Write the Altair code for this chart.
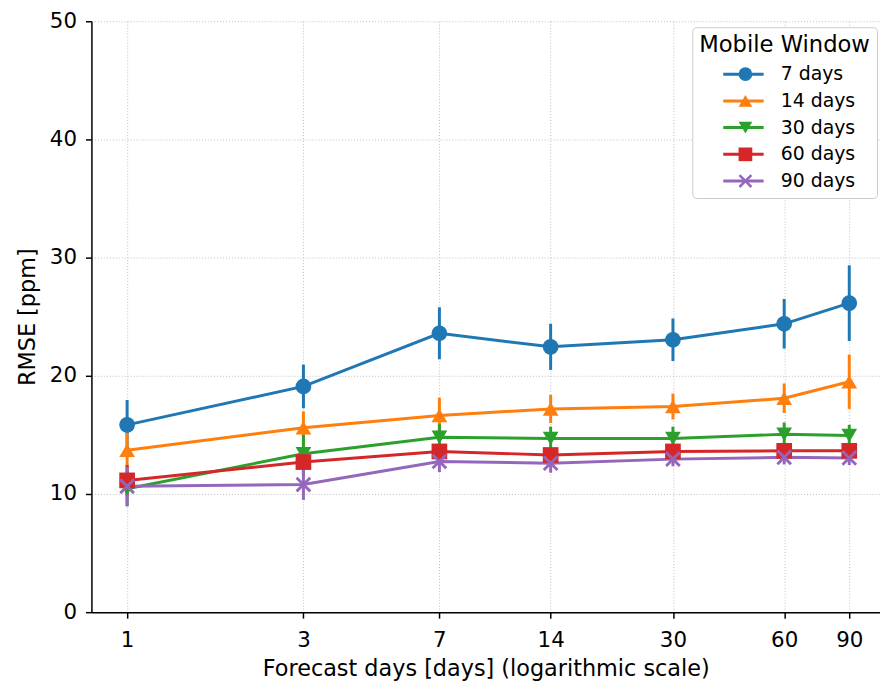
import altair as alt
import pandas as pd

forecast_days = [1, 3, 7, 14, 30, 60, 90]
series_names = ["7 days", "14 days", "30 days", "60 days", "90 days"]
colors = ["#1f77b4", "#ff7f0e", "#2ca02c", "#d62728", "#9467bd"]
X_PATH = ("M0,-0.26L0.74,-1L1,-0.74L0.26,0L1,0.74L0.74,1L0,0.26L-0.74,1"
          "L-1,0.74L-0.26,0L-1,-0.74L-0.74,-1Z")
shapes = ["circle", "triangle-up", "triangle-down", "square", X_PATH]
LINE_PATH = "M-2.95,0L2.95,0"

rmse_7 = [15.85, 19.1, 23.6, 22.45, 23.05, 24.4, 26.15]
err_7 = [2.1, 1.85, 2.2, 1.95, 1.8, 2.1, 3.2]
rmse_14 = [13.7, 15.6, 16.65, 17.2, 17.4, 18.1, 19.5]
err_14 = [1.5, 1.4, 1.5, 1.2, 1.1, 1.25, 2.3]
rmse_30 = [10.45, 13.4, 14.8, 14.7, 14.7, 15.05, 14.95]
err_30 = [1.5, 1.6, 1.1, 1.0, 1.0, 1.0, 0.9]
rmse_60 = [11.15, 12.7, 13.6, 13.3, 13.6, 13.65, 13.65]
err_60 = [1.3, 1.2, 0.6, 0.5, 0.5, 0.5, 0.5]
rmse_90 = [10.65, 10.8, 12.75, 12.6, 12.95, 13.1, 13.05]
err_90 = [1.65, 1.3, 0.9, 0.8, 0.6, 0.6, 0.6]

all_rmse = [rmse_7, rmse_14, rmse_30, rmse_60, rmse_90]
all_err = [err_7, err_14, err_30, err_60, err_90]

rows = []
for si, name in enumerate(series_names):
    for xi, d in enumerate(forecast_days):
        m = all_rmse[si][xi]
        e = all_err[si][xi]
        rows.append({"series": name, "series_line": name, "order": si, "x": d,
                     "rmse": m, "lo": m - e, "hi": m + e})
df = pd.DataFrame(rows)

FONT = "DejaVu Sans"

x_scale = alt.Scale(type="log", domain=[0.8006, 109.0], nice=False, zero=False)
y_scale = alt.Scale(domain=[0, 50], nice=False, zero=True)
color_scale = alt.Scale(domain=series_names, range=colors)
shape_scale = alt.Scale(domain=series_names, range=shapes)
stroke_scale = alt.Scale(range=colors)

x_enc = alt.X(
    "x:Q", scale=x_scale,
    axis=alt.Axis(title="Forecast days [days] (logarithmic scale)", values=forecast_days,
                  format="d", labelPadding=12, titlePadding=6),
)
y_enc = alt.Y(
    "rmse:Q", scale=y_scale,
    axis=alt.Axis(title="RMSE [ppm]", values=[0, 10, 20, 30, 40, 50], labelPadding=9, titlePadding=10),
)

LEG_X = 605
LEG_Y = 6
common_legend = dict(
    orient="none",
    legendX=LEG_X,
    legendY=LEG_Y,
    padding=7,
    titleFontSize=22.8,
    titleFont=FONT,
    titleFontWeight="normal",
    titleColor="black",
    titlePadding=8,
    labelFontSize=19,
    labelFont=FONT,
    labelColor="black",
    rowPadding=6.9,
    offset=0,
)

marker_legend = alt.Legend(
    title="Mobile Window",
    fillColor="white",
    strokeColor="#cccccc",
    cornerRadius=4,
    symbolSize=190,
    symbolStrokeWidth=0,
    symbolOffset=37,
    labelOffset=26,
    zindex=1,
    **common_legend,
)

line_legend = alt.Legend(
    title=" ",
    symbolType=LINE_PATH,
    symbolSize=190,
    symbolStrokeWidth=3,
    symbolOffset=35,
    labelExpr="''",
    labelOffset=0,
    zindex=2,
    **common_legend,
)

base = alt.Chart(df)

stroke_enc = alt.Stroke("series_line:N", sort=series_names, scale=stroke_scale, legend=line_legend)

rules = base.mark_rule(strokeWidth=3).encode(
    x=x_enc,
    y=alt.Y("lo:Q", scale=y_scale),
    y2="hi:Q",
    stroke=stroke_enc,
    order="order:Q",
)

lines = base.mark_line(strokeWidth=3).encode(
    x=x_enc,
    y=y_enc,
    stroke=stroke_enc,
    detail="series:N",
)

points = base.mark_point(filled=True, size=250, opacity=1).encode(
    x=x_enc,
    y=y_enc,
    color=alt.Color("series:N", scale=color_scale, legend=marker_legend),
    shape=alt.Shape("series:N", scale=shape_scale, legend=marker_legend),
    order="order:Q",
)

chart = (
    alt.layer(rules, lines, points)
    .properties(
        width=794,
        height=595,
        autosize=alt.AutoSizeParams(type="none"),
        padding={"left": 84, "top": 11, "right": 0, "bottom": 72},
    )
    .configure_view(stroke=None)
    .configure_axis(
        labelFont=FONT,
        titleFont=FONT,
        labelFontSize=21.5,
        titleFontSize=22.5,
        titleFontWeight="normal",
        labelColor="black",
        titleColor="black",
        domainColor="black",
        domainWidth=1.5,
        tickColor="black",
        tickWidth=1.5,
        tickSize=6,
        grid=True,
        gridColor="#b0b0b0",
        gridDash=[1, 2],
        gridWidth=0.8,
    )
)

chart.save("out.html", embed_options={"renderer": "svg", "actions": False})
